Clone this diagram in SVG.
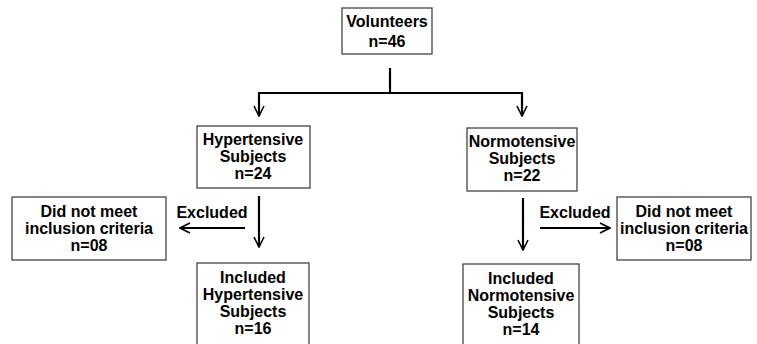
<svg xmlns="http://www.w3.org/2000/svg" width="757" height="344" viewBox="0 0 757 344">
<defs>
<marker id="v" viewBox="0 0 12 12" refX="11" refY="6" markerWidth="12" markerHeight="12" markerUnits="userSpaceOnUse" orient="auto">
<path d="M1,1 L11,6 L1,11" fill="none" stroke="#000" stroke-width="1.6"/>
</marker>
<style>
.box{fill:#fff;stroke:#444;stroke-width:1.3}
text{font-family:"Liberation Sans",Arial,sans-serif;font-weight:bold;font-size:16px;text-anchor:middle;fill:#000}
.ln{stroke:#000;stroke-width:2.2;fill:none}
.ar{stroke:#000;stroke-width:2.2;fill:none;marker-end:url(#v)}
</style>
</defs>
<rect width="757" height="344" fill="#fff"/>
<g id="connectors">
<line class="ln" x1="390" y1="68" x2="390" y2="93"/>
<line class="ln" x1="258" y1="93" x2="523" y2="93"/>
<line class="ar" x1="259" y1="92" x2="259" y2="116"/>
<line class="ar" x1="522" y1="92" x2="522" y2="116"/>
<line class="ar" x1="259" y1="196" x2="259" y2="247"/>
<line class="ar" x1="523" y1="198" x2="523" y2="250"/>
<line class="ar" x1="245" y1="228" x2="180" y2="228"/>
<line class="ar" x1="540" y1="228" x2="610" y2="228"/>
<text x="212" y="218">Excluded</text>
<text x="575" y="218">Excluded</text>
</g>
<g id="volunteers">
<rect class="box" x="342" y="8" width="90" height="46"/>
<text x="387" y="27">Volunteers</text>
<text x="387" y="47">n=46</text>
</g>
<g id="hypertensive">
<rect class="box" x="197" y="126" width="113" height="62"/>
<text x="253" y="145">Hypertensive</text>
<text x="253" y="162">Subjects</text>
<text x="253" y="179">n=24</text>
</g>
<g id="normotensive">
<rect class="box" x="467" y="128" width="110" height="63"/>
<text x="522" y="147">Normotensive</text>
<text x="522" y="164">Subjects</text>
<text x="522" y="181">n=22</text>
</g>
<g id="excluded-left">
<rect class="box" x="12" y="197" width="154" height="63"/>
<text x="89" y="217">Did not meet</text>
<text x="89" y="234">inclusion criteria</text>
<text x="89" y="251">n=08</text>
</g>
<g id="excluded-right">
<rect class="box" x="617" y="197" width="134" height="63"/>
<text x="684" y="217">Did not meet</text>
<text x="684" y="234">inclusion criteria</text>
<text x="684" y="251">n=08</text>
</g>
<g id="included-hypertensive">
<rect class="box" x="197" y="263" width="112" height="90"/>
<text x="253" y="283">Included</text>
<text x="253" y="300">Hypertensive</text>
<text x="253" y="317">Subjects</text>
<text x="253" y="334">n=16</text>
</g>
<g id="included-normotensive">
<rect class="box" x="463" y="264" width="116" height="90"/>
<text x="521" y="284">Included</text>
<text x="521" y="301">Normotensive</text>
<text x="521" y="318">Subjects</text>
<text x="521" y="335">n=14</text>
</g>
</svg>
